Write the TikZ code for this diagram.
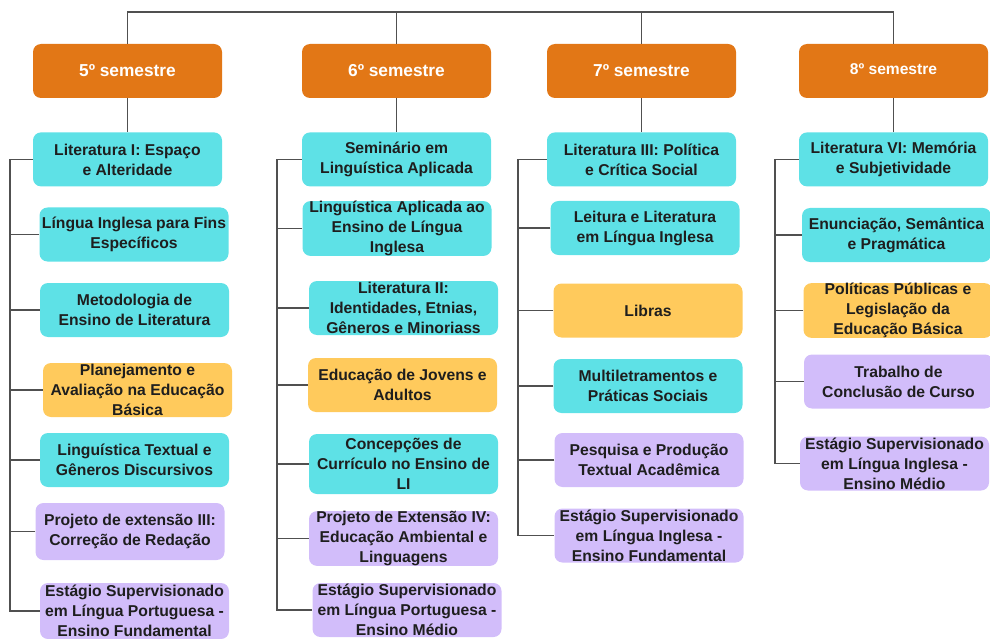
\documentclass[tikz,border=0pt]{standalone}
\usepackage{fontspec}
\setmainfont{Liberation Sans}
\usepackage{xcolor}
\usetikzlibrary{positioning}

\definecolor{semorange}{HTML}{E27716}
\definecolor{discyan}{HTML}{5EE1E6}
\definecolor{disyellow}{HTML}{FFCA5C}
\definecolor{dispurple}{HTML}{D2BDFA}
\definecolor{linegray}{HTML}{505050}
\definecolor{txtdark}{HTML}{1E1E1E}

\begin{document}
\begin{tikzpicture}[x=1pt,y=1pt,node distance=34pt]
\tikzset{
  sem/.style={fill=semorange,text=white,rounded corners=8pt,minimum width=189pt,minimum height=54pt,inner sep=0pt,font=\bfseries\fontsize{17.3}{20}\selectfont},
  disc/.style={rounded corners=8pt,minimum width=189pt,minimum height=54pt,inner xsep=1pt,inner ysep=0pt,align=center,text=txtdark,font=\bfseries\fontsize{15.7}{20}\selectfont},
  cy/.style={disc,fill=discyan},
  ye/.style={disc,fill=disyellow},
  pu/.style={disc,fill=dispurple},
  con/.style={draw=linegray,line width=1.5pt}
}
\path[use as bounding box,clip] (0,0) rectangle (990,-639);

% semesters
\node[sem] (s5) at (127.5,-71) {5º semestre};
\node[sem] (s6) at (396.5,-71) {6º semestre};
\node[sem] (s7) at (641.5,-71) {7º semestre};
\node[sem,font=\bfseries\fontsize{15.6}{18}\selectfont] (s8) at (893.5,-71) {\raisebox{3pt}{8º semestre}};
\draw[con] (s5.north) -- ++(0,32) -| (s8.north);
\draw[con] (s6.north) -- ++(0,32);
\draw[con] (s7.north) -- ++(0,32);

% 5o semestre
\node[cy,below=of s5] (a1) {Literatura I: Espaço\\e Alteridade};
\node[cy] (a2) at (134,-234.5) {Língua Inglesa para Fins\\Específicos};
\node[cy] (a3) at (134.5,-310) {Metodologia de\\Ensino de Literatura};
\node[ye] (a4) at (137.5,-390) {Planejamento e\\Avaliação na Educação\\Básica};
\node[cy] (a5) at (134.5,-460) {Linguística Textual e\\Gêneros Discursivos};
\node[pu,minimum height=57pt] (a6) at (130,-531.5) {Projeto de extensão III:\\Correção de Redação};
\node[pu,minimum height=56pt] (a7) at (134.5,-611) {Estágio Supervisionado\\em Língua Portuguesa -\\Ensino Fundamental};
\draw[con] (s5) -- (a1);
\coordinate (sa) at (10,0);
\draw[con] (a1.west) -| (sa |- a7.west) -- (a7.west);
\foreach \n in {a2,a3,a4,a5,a6}
  \draw[con] (\n.west) -- (\n.west -| sa);

% 6o semestre
\node[cy,below=of s6] (b1) {Seminário em\\Linguística Aplicada};
\node[cy] (b2) at (397,-228.5) {Linguística Aplicada ao\\Ensino de Língua\\Inglesa};
\node[cy] (b3) at (403.5,-308) {Literatura II:\\Identidades, Etnias,\\Gêneros e Minoriass};
\node[ye] (b4) at (402.5,-385) {Educação de Jovens e\\Adultos};
\node[cy,minimum height=60pt] (b5) at (403.5,-464) {Concepções de\\Currículo no Ensino de\\LI};
\node[pu] (b6) at (403.5,-538.5) {Projeto de Extensão IV:\\Educação Ambiental e\\Linguagens};
\node[pu] (b7) at (407,-610) {Estágio Supervisionado\\em Língua Portuguesa -\\Ensino Médio};
\draw[con] (s6) -- (b1);
\coordinate (sb) at (277,0);
\draw[con] (b1.west) -| (sb |- b7.west) -- (b7.west);
\foreach \n in {b2,b3,b4,b5,b6}
  \draw[con] (\n.west) -- (\n.west -| sb);

% 7o semestre
\node[cy,below=of s7] (c1) {Literatura III: Política\\e Crítica Social};
\node[cy] (c2) at (645,-228) {Leitura e Literatura\\em Língua Inglesa};
\node[ye] (c3) at (648,-310.5) {Libras};
\node[cy] (c4) at (648,-386) {Multiletramentos e\\Práticas Sociais};
\node[pu] (c5) at (649,-460) {Pesquisa e Produção\\Textual Acadêmica};
\node[pu] (c6) at (649,-535.5) {Estágio Supervisionado\\em Língua Inglesa -\\Ensino Fundamental};
\draw[con] (s7) -- (c1);
\coordinate (sc) at (518,0);
\draw[con] (c1.west) -| (sc |- c6.west) -- (c6.west);
\foreach \n in {c2,c3,c4,c5}
  \draw[con] (\n.west) -- (\n.west -| sc);

% 8o semestre
\node[cy,below=of s8] (d1) {Literatura VI: Memória\\e Subjetividade};
\node[cy] (d2) at (896.5,-235) {Enunciação, Semântica\\e Pragmática};
\node[ye] (d3) at (898,-310.5) {Políticas Públicas e\\Legislação da\\Educação Básica};
\node[pu] (d4) at (898.5,-381.5) {Trabalho de\\Conclusão de Curso};
\node[pu] (d5) at (894.5,-463.5) {Estágio Supervisionado\\em Língua Inglesa -\\Ensino Médio};
\draw[con] (s8) -- (d1);
\coordinate (sd) at (775,0);
\draw[con] (d1.west) -| (sd |- d5.west) -- (d5.west);
\foreach \n in {d2,d3,d4}
  \draw[con] (\n.west) -- (\n.west -| sd);
\end{tikzpicture}
\end{document}
